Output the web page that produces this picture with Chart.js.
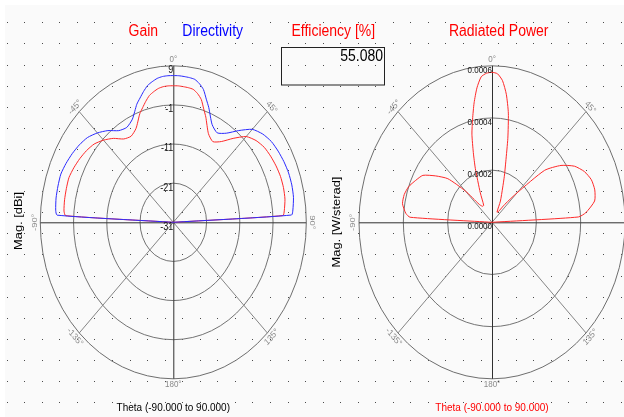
<!DOCTYPE html>
<html>
<head>
<meta charset="utf-8">
<script src="https://cdn.jsdelivr.net/npm/chart.js@4/dist/chart.umd.min.js"></script>
<style>
  html, body { margin: 0; padding: 0; background: #fff; }
  canvas { display: block; }
</style>
</head>
<body>
<canvas id="c" width="624" height="417"></canvas>
<script>
// angles (deg) of the far-field cut, 0 = top
var thetaDeg = [-90, -87, -85, -80, -75, -70, -65, -60, -55, -50, -45, -40, -35, -30, -25, -20,
  -17.5, -15, -12.5, -10, -7.5, -5, -2.5, 0, 2.5, 5, 7.5, 10, 12.5, 15, 17.5, 20,
  25, 30, 35, 40, 45, 50, 55, 60, 65, 70, 75, 80, 85, 87, 90];

// Gain [dBi] (red)
var gainDb = [-31, 1.4, 2.0, 2.2, 2.3, 2.4, 2.0, 1.5, 0.9, 0.1, -1.3, -3.0, -5.0, -5.6, -4.5, -1.5,
  -0.3, 1.0, 2.2, 2.9, 3.5, 3.8, 3.9, 3.9, 3.9, 3.8, 3.7, 3.5, 2.7, 1.5, -0.6, -2.4,
  -6.0, -7.2, -5.8, -3.0, 0.0, 1.5, 2.4, 2.8, 3.1, 3.3, 3.3, 3.1, 2.5, 2.0, -31];

// Directivity [dBi] (blue)
var directivityDb = [-31, 4.0, 4.5, 4.8, 4.9, 5.0, 4.6, 4.1, 3.5, 2.7, 1.3, -0.4, -2.4, -3.0, -1.9, 1.1,
  2.3, 3.6, 4.8, 5.5, 6.1, 6.4, 6.5, 6.5, 6.5, 6.4, 6.3, 6.1, 5.3, 4.1, 2.0, 0.2,
  -3.4, -4.6, -3.2, -0.4, 2.6, 4.1, 5.0, 5.4, 5.7, 5.9, 5.9, 5.7, 5.1, 4.6, -31];

// Radiated power [W/sterad]
var radiatedPower = [0, 0.00037, 0.00039, 0.00041, 0.00041, 0.00040, 0.00038, 0.00036, 0.00031, 0.00026, 0.00017, 0.00009, 0.000075, 0.000075, 0.000125, 0.00022,
  0.00028, 0.00035, 0.000405, 0.000465, 0.00052, 0.00056, 0.000572, 0.000575, 0.00057, 0.000545, 0.000495, 0.000425, 0.00033, 0.00024, 0.000185, 0.00014,
  0.00009, 0.000045, 0.00005, 0.00009, 0.00016, 0.00031, 0.00038, 0.00043, 0.00046, 0.000477, 0.00048, 0.00047, 0.000425, 0.00039, 0];

var dbTicks = [9, -1, -11, -21, -31];
var powerTicks = [0.0006, 0.0004, 0.0002, 0];
var angleTicks = [0, 45, 90, 135, 180, -135, -90, -45];
var efficiency = 55.080;

var DB_MIN = -31, DB_MAX = 9, P_MAX = 0.0006;

// layout of the page (pixels)
var W = 624, H = 417;
var CXL = 173.3, CXR = 492, CY = 222.3, RX = 133, RY = 156.5;
var SY = 1.17; // text is drawn a little taller than wide, like the original

function polar(vals, toR) {
  return thetaDeg.map(function (t, i) {
    var r = toR(vals[i]);
    var a = t * Math.PI / 180;
    return { x: r * Math.sin(a), y: r * Math.cos(a) };
  });
}
function dbR(v) { return Math.max(v - DB_MIN, 0); }
function pR(v) { return v; }

function txt(ctx, s, x, y, font, color, align, rot, base) {
  ctx.save();
  ctx.translate(x, y);
  ctx.scale(1, SY);
  if (rot) ctx.rotate(rot);
  ctx.font = font;
  ctx.fillStyle = color;
  ctx.textAlign = align || 'center';
  ctx.textBaseline = base || 'middle';
  ctx.fillText(s, 0, 0);
  ctx.restore();
}

function drawGrid(ctx, xs, ys, rings, rmax) {
  var cx = xs.getPixelForValue(0), cy = ys.getPixelForValue(0);
  ctx.save();
  ctx.lineWidth = 1;
  rings.forEach(function (r, i) {
    if (r <= 0) return;
    ctx.strokeStyle = i === 0 ? '#6e6e6e' : '#737373';
    ctx.beginPath();
    ctx.ellipse(cx, cy, xs.getPixelForValue(r) - cx, cy - ys.getPixelForValue(r), 0, 0, Math.PI * 2);
    ctx.stroke();
  });
  // diagonal spokes
  ctx.strokeStyle = '#858585';
  [45, -45].forEach(function (d) {
    var a = d * Math.PI / 180;
    ctx.beginPath();
    ctx.moveTo(xs.getPixelForValue(rmax * Math.sin(a)), ys.getPixelForValue(rmax * Math.cos(a)));
    ctx.lineTo(xs.getPixelForValue(-rmax * Math.sin(a)), ys.getPixelForValue(-rmax * Math.cos(a)));
    ctx.stroke();
  });
  // main axes
  ctx.strokeStyle = '#303030';
  ctx.beginPath();
  ctx.moveTo(cx + 0.5, ys.getPixelForValue(rmax));
  ctx.lineTo(cx + 0.5, ys.getPixelForValue(-rmax));
  ctx.moveTo(xs.getPixelForValue(-rmax), cy + 0.5);
  ctx.lineTo(xs.getPixelForValue(rmax), cy + 0.5);
  ctx.stroke();
  ctx.restore();

  // angle labels just outside the outer ring
  angleTicks.forEach(function (d) {
    var a = d * Math.PI / 180;
    var px = cx + (xs.getPixelForValue(rmax) - cx + 6) * Math.sin(a);
    var py = cy - (cy - ys.getPixelForValue(rmax) + 6) * Math.cos(a);
    var rot = d;
    if (rot > 90) rot -= 180;
    if (rot < -90) rot += 180;
    txt(ctx, d + '\u00b0', px, py, '8px "Liberation Sans", Arial', '#8a8a8a', 'center', rot * Math.PI / 180);
  });
}

var bgPlugin = {
  id: 'polarDecor',
  beforeDraw: function (chart) {
    var ctx = chart.ctx;
    ctx.save();
    ctx.fillStyle = '#ffffff';
    ctx.fillRect(0, 0, W, H);
    ctx.fillStyle = '#fafafa';
    ctx.fillRect(5, 5, W - 5, H - 5);
    ctx.fillStyle = '#4a4a4a';
    for (var j = 1; j < 20; j++) {
      var y = Math.round(1.2 + 21.1 * j);
      for (var i = 0; i < 36; i++) {
        var x = Math.round(6.7 + 17.55 * i);
        ctx.fillRect(x, y, 1, 1);
      }
    }
    ctx.restore();
  },
  beforeDatasetsDraw: function (chart) {
    var ctx = chart.ctx, s = chart.scales;
    drawGrid(ctx, s.xL, s.yL, dbTicks.map(dbR), DB_MAX - DB_MIN);
    drawGrid(ctx, s.xR, s.yR, powerTicks.map(pR), P_MAX);
  },
  afterDatasetsDraw: function (chart) {
    var ctx = chart.ctx, s = chart.scales;
    var f = '"Liberation Sans", Arial, sans-serif';
    // radial labels
    var cxl = s.xL.getPixelForValue(0);
    dbTicks.forEach(function (v) {
      txt(ctx, String(v), cxl, s.yL.getPixelForValue(dbR(v)) + 4.5, '9px ' + f, '#111', 'right');
    });
    var cxr = s.xR.getPixelForValue(0);
    powerTicks.forEach(function (v) {
      txt(ctx, v.toFixed(4), cxr, s.yR.getPixelForValue(v) + 4.5, '8px ' + f, '#111', 'right');
    });

    // titles
    txt(ctx, 'Gain', 143.3, 36, '14px ' + f, '#ff0000', 'center', 0, 'alphabetic');
    txt(ctx, 'Directivity', 212.7, 36, '14px ' + f, '#0000ff', 'center', 0, 'alphabetic');
    txt(ctx, 'Efficiency [%]', 333.3, 36, '14px ' + f, '#ff0000', 'center', 0, 'alphabetic');
    txt(ctx, 'Radiated Power', 498.7, 36, '14px ' + f, '#ff0000', 'center', 0, 'alphabetic');

    // efficiency box
    ctx.save();
    ctx.strokeStyle = '#222';
    ctx.lineWidth = 1;
    ctx.strokeRect(281.5, 47.5, 103, 37.5);
    ctx.restore();
    txt(ctx, efficiency.toFixed(3), 383, 61, '14px ' + f, '#000', 'right', 0, 'alphabetic');

    // axis titles
    txt(ctx, 'Mag. [dBi]', 18.5, 221, '11px ' + f, '#000', 'center', -Math.PI / 2);
    txt(ctx, 'Mag. [W/sterad]', 337, 222, '11px ' + f, '#000', 'center', -Math.PI / 2);
    txt(ctx, 'Theta (-90.000 to 90.000)', 173.3, 411, '10px ' + f, '#000', 'center', 0, 'alphabetic');
    txt(ctx, 'Theta (-90.000 to 90.000)', 492, 411, '10px ' + f, '#ff0000', 'center', 0, 'alphabetic');
  }
};

var dbSpan = DB_MAX - DB_MIN;
var ctx = document.getElementById('c').getContext('2d');
var chart = new Chart(ctx, {
  type: 'scatter',
  data: {
    datasets: [
      {
        label: 'Directivity',
        data: polar(directivityDb, dbR),
        xAxisID: 'xL', yAxisID: 'yL',
        showLine: true, borderColor: '#2a2aff', borderWidth: 1,
        pointRadius: 0, tension: 0.2
      },
      {
        label: 'Gain',
        data: polar(gainDb, dbR),
        xAxisID: 'xL', yAxisID: 'yL',
        showLine: true, borderColor: '#ff2a2a', borderWidth: 1,
        pointRadius: 0, tension: 0.2
      },
      {
        label: 'Radiated Power',
        data: polar(radiatedPower, pR),
        xAxisID: 'xR', yAxisID: 'yR',
        showLine: true, borderColor: '#ff2a2a', borderWidth: 1,
        pointRadius: 0, tension: 0.2
      }
    ]
  },
  options: {
    responsive: false,
    animation: false,
    layout: { padding: 0 },
    plugins: { legend: { display: false }, tooltip: { enabled: false } },
    scales: {
      xL: { type: 'linear', display: false, bounds: 'data',
        min: -CXL / RX * dbSpan, max: (W - CXL) / RX * dbSpan },
      yL: { type: 'linear', display: false, bounds: 'data',
        min: -(H - CY) / RY * dbSpan, max: CY / RY * dbSpan },
      xR: { type: 'linear', display: false, bounds: 'data',
        min: -CXR / RX * P_MAX, max: (W - CXR) / RX * P_MAX },
      yR: { type: 'linear', display: false, bounds: 'data',
        min: -(H - CY) / RY * P_MAX, max: CY / RY * P_MAX }
    }
  },
  plugins: [bgPlugin]
});
</script>
</body>
</html>
